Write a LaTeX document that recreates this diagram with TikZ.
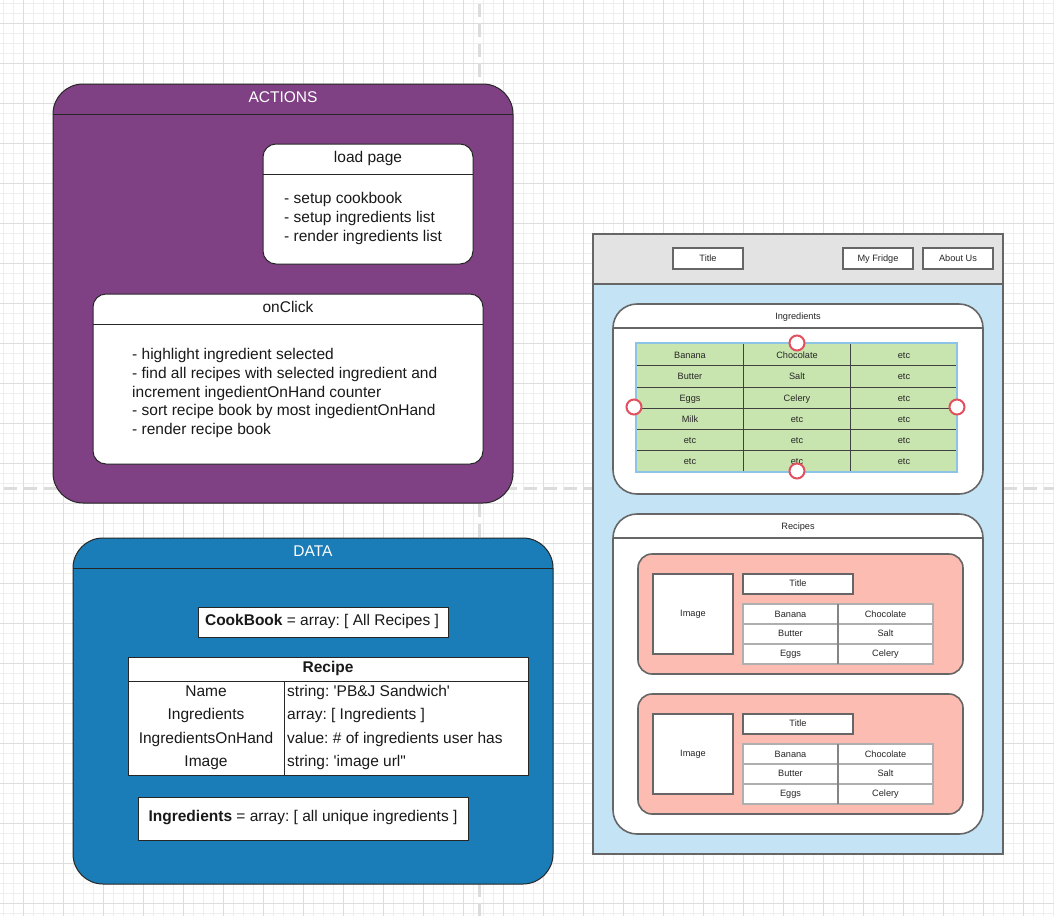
\documentclass[tikz,border=0pt]{standalone}
\usepackage{fontspec}
\setmainfont{Liberation Sans}
\frenchspacing
\definecolor{actpurple}{RGB}{128,65,132}
\definecolor{datablue}{RGB}{26,125,183}
\definecolor{wfgray}{RGB}{227,227,227}
\definecolor{wfblue}{RGB}{196,227,245}
\definecolor{ingreen}{RGB}{201,229,175}
\definecolor{cardred}{RGB}{252,188,177}
\definecolor{handlered}{RGB}{226,80,96}
\definecolor{gridminor}{RGB}{238,238,238}
\definecolor{gridmajor}{RGB}{221,221,221}
\definecolor{pagebrk}{RGB}{220,220,220}
\definecolor{edge}{RGB}{102,102,102}
\definecolor{seltbl}{RGB}{140,195,230}
\definecolor{cellgray}{RGB}{175,175,175}
\tikzset{
  shapebox/.style={inner sep=0pt, outer sep=0pt, anchor=north west},
  bigbox/.style={shapebox, draw=black!85, line width=1pt, rounded corners=30pt},
  midbox/.style={shapebox, draw=black!85, fill=white, line width=1pt, rounded corners=13pt},
  plainbox/.style={shapebox, draw=black!85, fill=white, line width=1pt},
  wfline/.style={draw=edge, line width=1.6pt},
  wfbox/.style={shapebox, wfline, fill=white},
  panelbox/.style={shapebox, wfline, fill=white, rounded corners=24pt},
  cardbox/.style={shapebox, wfline, fill=cardred, rounded corners=14pt},
  oneline/.style={text height=0.72em, text depth=0pt},
  hdr/.style={oneline, yshift=-1.2pt, text=white, font=\fontsize{15.5}{18}\selectfont, inner sep=0pt},
  txt/.style={oneline, yshift=-1.2pt, text=black!90, font=\fontsize{15.5}{18.6}\selectfont, inner sep=0pt},
  txtml/.style={text=black!90, font=\fontsize{15.5}{18.7}\selectfont, inner sep=0pt, align=left, anchor=west},
  small/.style={oneline, text=black!85, font=\fontsize{9.2}{11}\selectfont, inner sep=0pt},
  handle/.style={circle, draw=handlered, fill=white, line width=2pt, minimum size=15pt, inner sep=0pt},
}
\begin{document}
\begin{tikzpicture}[x=1pt, y=-1pt]
\useasboundingbox (0,0) rectangle (1054,916);
\fill[white] (0,0) rectangle (1054,916);
% grid
\foreach \i in {0,...,105} \draw[gridminor, line width=1pt] ({3.3+10*\i},0) -- ({3.3+10*\i},916);
\foreach \i in {0,...,91} \draw[gridminor, line width=1pt] (0,{3.3+10*\i}) -- (1054,{3.3+10*\i});
\foreach \i in {0,...,26} \draw[gridmajor, line width=1pt] ({23.3+40*\i},0) -- ({23.3+40*\i},916);
\foreach \i in {0,...,22} \draw[gridmajor, line width=1pt] (0,{23.3+40*\i}) -- (1054,{23.3+40*\i});
% page breaks
\draw[pagebrk, line width=3pt, dash pattern=on 13pt off 7pt] (479,4) -- (479,916);
\draw[pagebrk, line width=3pt, dash pattern=on 13pt off 7pt] (4,488) -- (1054,488);

% ACTIONS
\node[bigbox, fill=actpurple, minimum width=460pt, minimum height=419pt] (actions) at (53,84) {};
\draw[black!85, line width=1pt] ([yshift=-30pt]actions.north west) -- ([yshift=-30pt]actions.north east);
\node[hdr] (actionsT) at (283,97.5) {ACTIONS};

\node[midbox, minimum width=210pt, minimum height=120pt] (load) at (263,144) {};
\draw[black!85, line width=1pt] ([yshift=-30pt]load.north west) -- ([yshift=-30pt]load.north east);
\node[txt] (loadT) at (368,157.5) {load page};
\node[txtml] (loadB) at (284,218.5) {- setup cookbook\\- setup ingredients list\\- render ingredients list};

\node[midbox, minimum width=390pt, minimum height=170pt] (click) at (93,294) {};
\draw[black!85, line width=1pt] ([yshift=-30pt]click.north west) -- ([yshift=-30pt]click.north east);
\node[txt] (clickT) at (288,307.5) {onClick};
\node[txtml] (clickB) at (132,393) {- highlight ingredient selected\\- find all recipes with selected ingredient and\\increment ingedientOnHand counter\\- sort recipe book by most ingedientOnHand\\- render recipe book};

% DATA
\node[bigbox, fill=datablue, minimum width=480pt, minimum height=346pt] (data) at (73,538) {};
\draw[black!85, line width=1pt] ([yshift=-30pt]data.north west) -- ([yshift=-30pt]data.north east);
\node[hdr] (dataT) at (313,551.5) {DATA};

\node[plainbox, minimum width=250pt, minimum height=30pt] (cook) at (198,607) {};
\node[txt] (cookT) at (322,620.5) {\textbf{CookBook} = array: [ All Recipes ]};

\node[plainbox, minimum width=400pt, minimum height=118pt] (recipe) at (128,657) {};
\draw[black!85, line width=1pt] (128,681) -- (528,681);
\draw[black!85, line width=1pt] (284,681) -- (284,775);
\node[txt] (recipeT) at (328,667.5) {\textbf{Recipe}};
\node[txt] (rName) at (206,691.5) {Name};
\node[txt] (rIng) at (206,715) {Ingredients};
\node[txt] (rOn) at (206,738.5) {IngredientsOnHand};
\node[txt] (rImg) at (206,762) {Image};
\node[txt, anchor=west] (vName) at (287,691.5) {string: \textquotesingle PB\&J Sandwich\textquotesingle};
\node[txt, anchor=west] (vIng) at (287,715) {array: [ Ingredients ]};
\node[txt, anchor=west] (vOn) at (287,738.5) {value: \# of ingredients user has};
\node[txt, anchor=west] (vImg) at (287,762) {string: \textquotesingle image url\textquotedbl};

\node[plainbox, minimum width=330pt, minimum height=43pt] (ingall) at (138,797) {};
\node[txt] (ingallT) at (303,816.5) {\textbf{Ingredients} = array: [ all unique ingredients ]};

% WIREFRAME
\node[shapebox, wfline, fill=wfblue, minimum width=410pt, minimum height=620pt] (page) at (593,234) {};
\fill[wfgray] (593,234) rectangle (1003,284);
\draw[wfline] (593,234) rectangle (1003,854);
\draw[wfline] (593,284) -- (1003,284);

\node[wfbox, minimum width=70pt, minimum height=21pt] (btnTitle) at (673,248) {};
\node[small] (btnTitleT) at (708,257.5) {Title};
\node[wfbox, minimum width=70pt, minimum height=21pt] (btnFridge) at (843,248) {};
\node[small] (btnFridgeT) at (878,257.5) {My Fridge};
\node[wfbox, minimum width=70pt, minimum height=21pt] (btnAbout) at (923,248) {};
\node[small] (btnAboutT) at (958,257.5) {About Us};

% Ingredients panel
\node[panelbox, minimum width=370pt, minimum height=190pt] (ingp) at (613,304) {};
\draw[wfline] (613,328) -- (983,328);
\node[small] (ingpT) at (798,315.5) {Ingredients};
\node[shapebox, fill=ingreen, minimum width=321pt, minimum height=129pt] (ingtbl) at (636,343) {};
\foreach \yy in {365,387,408.5,429,450} \draw[black!75, line width=0.9pt] (636,\yy) -- (957,\yy);
\foreach \xx in {743,850} \draw[black!75, line width=0.9pt] (\xx,343) -- (\xx,472);
\draw[seltbl, line width=1.5pt] (ingtbl.north west) rectangle (ingtbl.south east);
\foreach \r/\a/\b/\c [count=\k] in {354.5/Banana/Chocolate/etc, 376/Butter/Salt/etc, 398/Eggs/Celery/etc, 418.5/Milk/etc/etc, 439.5/etc/etc/etc, 461/etc/etc/etc} {
  \node[small] (ing\k a) at (690,\r) {\a};
  \node[small] (ing\k b) at (797,\r) {\b};
  \node[small] (ing\k c) at (904,\r) {\c};
}
\node[handle] (hTop) at (797,343) {};
\node[handle] (hBot) at (797,471) {};
\node[handle] (hLeft) at (634,407) {};
\node[handle] (hRight) at (957,407) {};

% Recipes panel
\node[panelbox, minimum width=370pt, minimum height=320pt] (recp) at (613,514) {};
\draw[wfline] (613,538) -- (983,538);
\node[small] (recpT) at (798,525.5) {Recipes};

\foreach \o [count=\n] in {0,140} {
  \node[cardbox, minimum width=325pt, minimum height=120pt] (card\n) at (638,554+\o) {};
  \node[wfbox, minimum width=80pt, minimum height=80pt] (img\n) at (653,574+\o) {};
  \node[small] (img\n T) at (693,612.5+\o) {Image};
  \node[wfbox, minimum width=110pt, minimum height=20pt] (ttl\n) at (743,574+\o) {};
  \node[small] (ttl\n T) at (798,582.5+\o) {Title};
  \node[shapebox, fill=white, draw=cellgray, line width=1.2pt, minimum width=190pt, minimum height=60pt] (tbl\n) at (743,604+\o) {};
  \draw[cellgray, line width=1.2pt] (743,624+\o) -- (933,624+\o);
  \draw[cellgray, line width=1.2pt] (743,644+\o) -- (933,644+\o);
  \draw[edge!80, line width=1.2pt] (838,604+\o) -- (838,664+\o);
  \node[small] (c\n a) at (790.5,613.5+\o) {Banana};
  \node[small] (c\n b) at (885.5,613.5+\o) {Chocolate};
  \node[small] (c\n c) at (790.5,632.5+\o) {Butter};
  \node[small] (c\n d) at (885.5,632.5+\o) {Salt};
  \node[small] (c\n e) at (790.5,652.5+\o) {Eggs};
  \node[small] (c\n f) at (885.5,652.5+\o) {Celery};
}
\end{tikzpicture}
\end{document}
